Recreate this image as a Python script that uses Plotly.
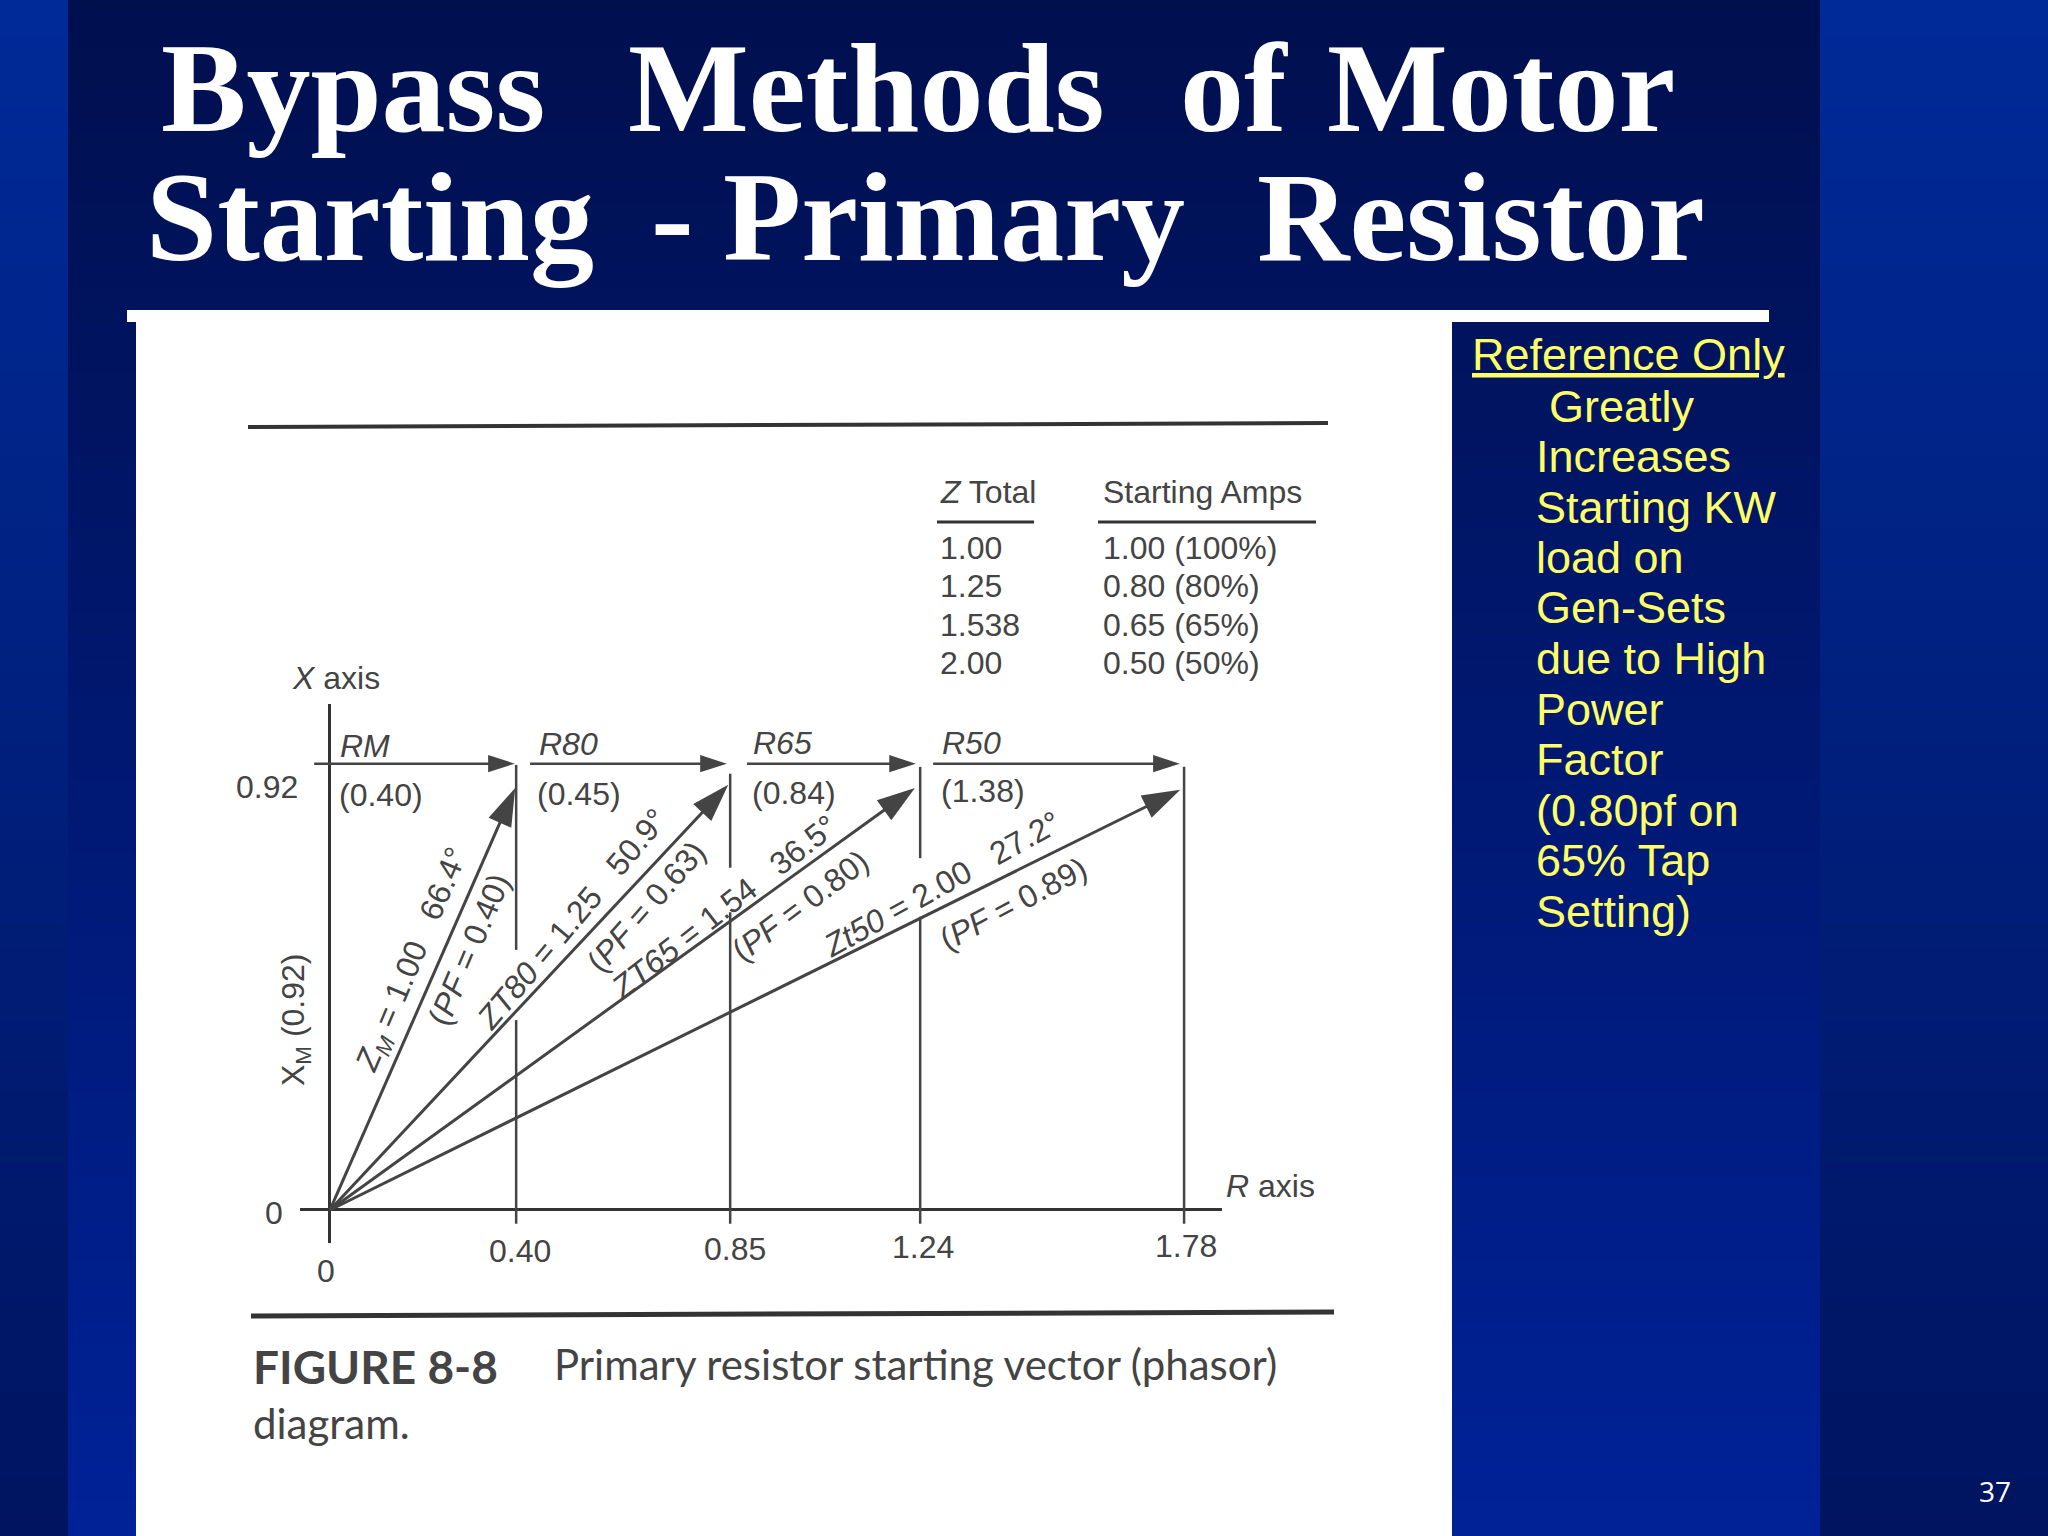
import plotly.graph_objects as go

W, H = 2048, 1536

# values (axis positions as drawn, the book's figure isn't quite to scale)
r_pos = [0, 0.388, 0.834, 1.23, 1.78]
r_labels = ['0', '0.40', '0.85', '1.24', '1.78']
x_m = 0.92
r_arrow_y = 0.973

phasor_r = [0.386, 0.83, 1.219, 1.772]
phasor_x = [0.92, 0.927, 0.92, 0.916]

r_names = ['RM', 'R80', 'R65', 'R50']
r_values = ['(0.40)', '(0.45)', '(0.84)', '(1.38)']
r_start = [-0.033, 0.417, 0.869, 1.257]
r_end = [0.385, 0.827, 1.221, 1.771]

z_total = ['1.00', '1.25', '1.538', '2.00']
starting_amps = ['1.00 (100%)', '0.80 (80%)', '0.65 (65%)', '0.50 (50%)']

side_text = ['Greatly', 'Increases', 'Starting KW', 'load on', 'Gen-Sets', 'due to High',
             'Power', 'Factor', '(0.80pf on', '65% Tap', 'Setting)']

INK = '#444444'
YELLOW = '#ffff66'
SANS = 'Liberation Sans'


def px(x):
    return x / W


def py(y):
    return 1 - y / H


def mix(a, b, t):
    return 'rgb(%d,%d,%d)' % tuple(round(a[i] + (b[i] - a[i]) * t) for i in range(3))


def box(x0, y0, x1, y1, color):
    return dict(type='rect', xref='paper', yref='paper', x0=px(x0), x1=px(x1), y0=py(y0), y1=py(y1),
                fillcolor=color, line_width=0, layer='below')


def rule(x0, y0, x1, y1, width):
    return dict(type='line', xref='paper', yref='paper', x0=px(x0), x1=px(x1), y0=py(y0), y1=py(y1),
                line=dict(color='#333333', width=width), layer='below')


shapes = []
# slide background, the strips and the middle panel run opposite vertical gradients
for i in range(0, H, 12):
    t = i / H
    strip = mix((0, 42, 152), (0, 20, 96), t)
    panel = mix((0, 15, 78), (0, 34, 152), t)
    shapes.append(box(0, i, 68, i + 13, strip))
    shapes.append(box(68, i, 1820, i + 13, panel))
    shapes.append(box(1820, i, W, i + 13, strip))

shapes += [
    box(127, 310, 1769, 322, 'white'),
    box(136, 310, 1452, H, 'white'),
    rule(248, 427, 1328, 423, 4),
    rule(937, 522, 1034, 522, 3),
    rule(1098, 522, 1316, 522, 3),
    rule(251, 1316, 1334, 1312, 5),
]

fig = go.Figure()

# verticals from the R axis up to the arrows, broken where the book's text sits on them
drops = [
    [(0.97, 0.567), (0.414, -0.03)],
    [(0.951, 0.746), (0.649, -0.03)],
    [(0.966, 0.767), (0.639, -0.03)],
    [(0.966, -0.03)],
]
for r, segs in zip(r_pos[1:], drops):
    xs, ys = [], []
    for top, bottom in segs:
        xs += [r, r, None]
        ys += [top, bottom, None]
    fig.add_trace(go.Scatter(x=xs, y=ys, mode='lines', line=dict(color=INK, width=2.5), hoverinfo='skip'))

for r0, r1 in zip(r_start, r_end):
    fig.add_trace(go.Scatter(x=[r0, r1], y=[r_arrow_y, r_arrow_y], mode='lines+markers',
                             line=dict(color=INK, width=2.5),
                             marker=dict(symbol='arrow', size=[0, 28], angleref='previous', color=INK,
                                         line_width=0, opacity=1),
                             hoverinfo='skip'))

for r, x in zip(phasor_r, phasor_x):
    fig.add_trace(go.Scatter(x=[0, r], y=[0, x], mode='lines+markers',
                             line=dict(color=INK, width=3),
                             marker=dict(symbol='arrow', size=[0, 40], angleref='previous', color=INK,
                                         line_width=0, opacity=1),
                             hoverinfo='skip'))


def text(s, x, y, size=32, color=INK, angle=0, anchor='center', family=SANS):
    return dict(text=s, x=px(x), y=py(y), xref='paper', yref='paper', showarrow=False, textangle=angle,
                xanchor=anchor, yanchor='middle', font=dict(family=family, size=size, color=color))


ann = []

# title, word by word to hold the slide's wide spacing
TITLE = 'Liberation Serif'
title_words = [('Bypass', 353, 88), ('Methods', 866, 88), ('of', 1234, 88), ('Motor', 1501, 88),
               ('Starting', 370, 217), ('-', 672, 217), ('Primary', 954, 217), ('Resistor', 1481, 217)]
for word, x, y in title_words:
    ann.append(dict(text='<b>%s</b>' % word, x=px(x), y=py(y), xref='paper', yref='paper', showarrow=False,
                    xanchor='center', yanchor='middle', font=dict(family=TITLE, size=128, color='white')))

# side note
ann.append(text('<u>Reference Only</u>', 1469.5, 355, size=45, color=YELLOW, anchor='left'))
for i, line in enumerate(side_text):
    ann.append(text(line, 1546.5 if i == 0 else 1533.5, 406 + i * 50.5, size=45, color=YELLOW, anchor='left'))

ann.append(text('37', 1995, 1491, size=28, color='white', family='Open Sans'))

# table
ann.append(text('<i>Z</i> Total', 937.5, 492, anchor='left'))
ann.append(text('Starting Amps', 1100.5, 492, anchor='left'))
for i, (z, amps) in enumerate(zip(z_total, starting_amps)):
    ann.append(text(z, 937.5, 548 + i * 38.3, anchor='left'))
    ann.append(text(amps, 1100.5, 548 + i * 38.3, anchor='left'))

# axis text
ann.append(text('<i>X</i> axis', 290, 678, anchor='left'))
ann.append(text('<i>R</i> axis', 1224, 1186, anchor='left'))
ann.append(text('X<sub>M</sub> (0.92)', 295, 1020, angle=-90))
ann.append(text(str(x_m), 267, 787))
ann.append(text('0', 274, 1213))

label_xy = [(326, 1271), (520, 1251), (735, 1249), (923, 1247), (1186, 1246)]
for label, (x, y) in zip(r_labels, label_xy):
    ann.append(text(label, x, y))

name_xy = [(365, 746), (568, 744), (782, 743), (971, 743)]
value_xy = [(381, 795), (579, 794), (794, 793), (983, 791)]
for name, value, nxy, vxy in zip(r_names, r_values, name_xy, value_xy):
    ann.append(text('<i>%s</i>' % name, *nxy))
    ann.append(text(value, *vxy))

# labels along the phasors
phasor_text = [
    ('<i>Z<sub>M</sub></i> = 1.00\u00a0\u00a0\u00a066.4\u00b0', 413, 960, -67),
    ('(<i>PF</i> = 0.40)', 469, 950, -67),
    ('<i>ZT80</i> = 1.25\u00a0\u00a0\u00a050.9\u00b0', 572, 919, -50),
    ('(<i>PF</i> = 0.63)', 646, 907, -49),
    ('<i>ZT65</i> = 1.54\u00a0\u00a0\u00a036.5\u00b0', 724, 907, -38),
    ('(<i>PF</i> = 0.80)', 800, 906, -37),
    ('<i>Zt50</i> = 2.00\u00a0\u00a0\u00a027.2\u00b0', 942, 884, -29),
    ('(<i>PF</i> = 0.89)', 1013, 904, -28),
]
for s, x, y, a in phasor_text:
    ann.append(text(s, x, y, angle=a))

# caption
CAPTION = 'Lato'
ann.append(text('<b>FIGURE 8-8</b>', 251, 1366, size=46, anchor='left', family=CAPTION))
ann.append(text('Primary resistor starting vector (phasor)', 552, 1364, size=42, anchor='left', family=CAPTION))
ann.append(text('diagram.', 251, 1423, size=42, anchor='left', family=CAPTION))

fig.update_layout(
    width=W, height=H, margin=dict(l=0, r=0, t=0, b=0),
    showlegend=False,
    paper_bgcolor='#001a70', plot_bgcolor='rgba(0,0,0,0)',
    shapes=shapes, annotations=ann,
    xaxis=dict(domain=[px(300), px(1222)], range=[-0.0625, 1.859], showgrid=False, showticklabels=False,
               ticks='', zeroline=True, zerolinecolor='#333333', zerolinewidth=2.5),
    yaxis=dict(domain=[py(1243), py(704)], range=[-0.072, 1.103], showgrid=False, showticklabels=False,
               ticks='', zeroline=True, zerolinecolor='#333333', zerolinewidth=3),
)

# page margin off so the slide fills the window
fig.write_html("out.html", config={'displayModeBar': False}, post_script="document.body.style.margin='0';")
